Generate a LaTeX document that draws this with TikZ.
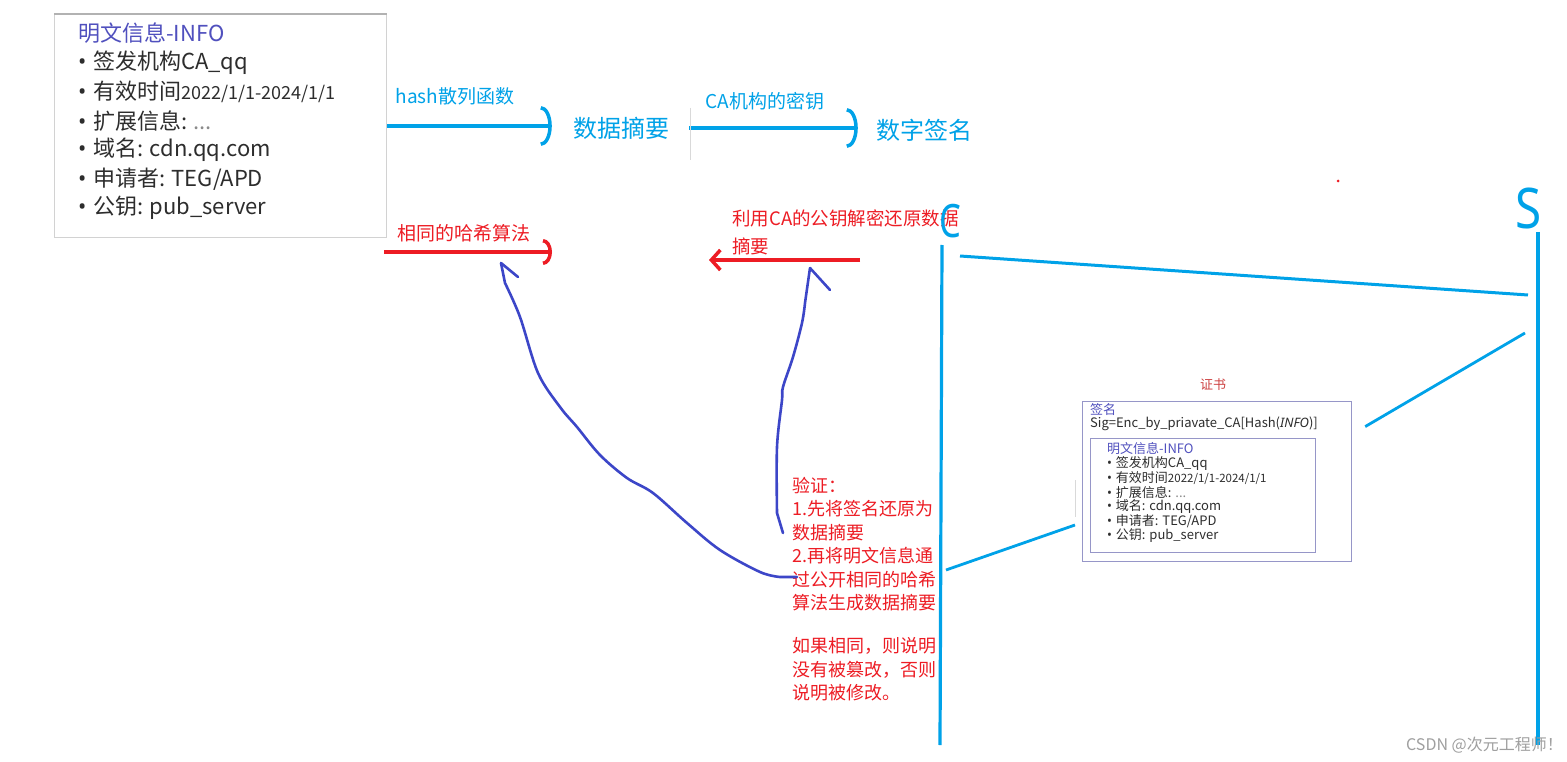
\documentclass[tikz,border=0pt]{standalone}
\usepackage{fontspec}
\usepackage{graphicx}
\setmainfont{Noto Sans CJK SC}
\newfontfamily\latinsans{Noto Sans}
\usetikzlibrary{arrows.meta}
\definecolor{sky}{RGB}{0,162,232}
\definecolor{pen}{RGB}{237,28,36}
\definecolor{ink}{RGB}{60,70,200}
\definecolor{slate}{RGB}{45,45,45}
\definecolor{iris}{RGB}{80,80,190}
\definecolor{frame}{RGB}{150,150,200}
\definecolor{rose}{RGB}{205,65,65}
\newcommand{\dotmark}{{\latinsans\char"2022}\hspace{0.3em}}
\tikzset{
  flow/.style={draw=#1,line width=3.5pt,-{Arc Barb[length=11pt,width=40pt]}},
  flow/.default=sky,
  rflow/.style={draw=pen,line width=3.5pt,-{Arc Barb[length=9pt,width=26pt]}},
  lflow/.style={draw=pen,line width=3.5pt,-{Straight Barb[length=9pt,width=20pt]}},
  hand/.style={draw=ink,line width=2.6pt,line cap=round,line join=round},
  wire/.style={draw=sky,line width=3.2pt},
  bluetxt/.style={text=sky,inner sep=0pt,font=\fontsize{24}{26}\selectfont},
  redtxt/.style={text=pen,inner sep=0pt,font=\fontsize{19}{22}\selectfont},
  infobox/.style={draw=gray!35,line width=1pt},
  head/.style={text=iris,inner sep=0pt,font=\fontsize{22}{24}\selectfont},
  item/.style={text=slate,inner sep=0pt,font=\fontsize{22}{24}\selectfont},
  certbox/.style={draw=frame,line width=1.2pt},
  chead/.style={text=iris,inner sep=0pt,font=\fontsize{13}{14}\selectfont},
  citem/.style={text=slate,inner sep=0pt,font=\fontsize{13}{14}\selectfont},
  faint/.style={draw=gray!30,line width=0.8pt},
}
\begin{document}
\begin{tikzpicture}[x=1pt,y=-1pt]
  \fill[white] (0,0) rectangle (1567,762);
  \useasboundingbox (0,0) rectangle (1567,762);

  % plain text block
  \node[infobox,minimum width=332,minimum height=223,anchor=north west] (info) at (54,14) {};
  \draw[gray!60,line width=2.5pt] (info.north west) -- (info.north east);
  \node[head,anchor=west] at ([shift={(24,19)}]info.north west) {明文信息-INFO};
  \foreach \t [count=\i] in {签发机构CA\_qq,有效时间{\fontsize{18}{20}\selectfont 2022/1/1-2024/1/1},扩展信息: \textcolor{slate!55}{...},域名: cdn.qq.com,申请者: TEG/APD,公钥: pub\_server}
    \node[item,anchor=west] at ([shift={(24,20+29*\i)}]info.north west) {\dotmark\t};

  % signing chain
  \node[bluetxt] (digest) at (621,128) {数据摘要};
  \node[bluetxt] (sign) at (924,130) {数字签名};
  \node[bluetxt,font=\fontsize{19}{21}\selectfont] (hash) at (455,96) {hash散列函数};
  \node[bluetxt,font=\fontsize{19}{21}\selectfont] (cakey) at (765,101) {CA机构的密钥};
  \draw[flow] (info.east) -- ([xshift=-21pt]info.east -| digest.west);
  \draw[flow,shorten <=20pt] (digest.east) -- ([xshift=-18pt]digest.east -| sign.west);
  \draw[faint] (690,108) -- (690,160);

  % checking chain
  \node[redtxt] (same) at (464,233) {相同的哈希算法};
  \node[redtxt,font=\fontsize{18.5}{28}\selectfont,align=left,anchor=north west] (decrypt) at (732,210) {利用CA的公钥解密还原数据\\摘要};
  \coordinate (s1) at (384,252);
  \coordinate (s2) at (552,252);
  \coordinate (d1) at (860,260);
  \coordinate (d2) at (709,260);
  \draw[rflow] (s1) -- (s2);
  \draw[lflow] (d1) -- (d2);

  \node[redtxt,font=\fontsize{18}{23.5}\selectfont,align=left,anchor=north west] (verify) at (792,477)
    {验证：\\1.先将签名还原为\\数据摘要\\2.再将明文信息通\\过公开相同的哈希\\算法生成数据摘要\\[19.5pt]如果相同，则说明\\没有被篡改，否则\\说明被修改。};

  % pen strokes
  \coordinate (v1) at (797,577);
  \coordinate (v2) at (783,533);
  \coordinate (t1) at (501,263);
  \coordinate (t2) at (810,268);
  \draw[hand] (v1) -- plot[smooth,tension=0.55] coordinates {(780,577) (760,572) (720,550) (687,523) (653,493) (627,478) (600,455) (577,427) (560,407) (538,373) (520,317) (505,283)} -- (t1);
  \draw[hand] (t1) -- ++(17,14);
  \draw[hand] (v2) -- plot[smooth,tension=0.55] coordinates {(777,513) (777,447) (782,400) (783,387) (793,357) (802,323) (805,303)} -- (t2);
  \draw[hand] (t2) -- ++(20,22);

  % client and server
  \node[text=sky,inner sep=0pt,font=\latinsans\fontsize{46}{46}\selectfont] (client) at (950,221) {\scalebox{0.75}[1]{C}};
  \node[text=sky,inner sep=0pt,font=\latinsans\fontsize{56}{56}\selectfont] (server) at (1529,209) {\scalebox{0.85}[1]{S}};
  \coordinate (cTop) at (942,245);
  \coordinate (cBot) at (940,745);
  \coordinate (sTop) at (1538,232);
  \coordinate (sBot) at (1538,745);
  \draw[wire] (cTop) -- (cBot);
  \draw[wire] (sTop) -- (sBot);

  % certificate
  \node[text=rose,inner sep=0pt,font=\fontsize{13}{14}\selectfont] (certname) at (1213,385) {证书};
  \node[certbox,minimum width=269,minimum height=160,anchor=north west] (cert) at (1082,401) {};
  \node[chead,anchor=west] at (1090,410) {签名};
  \node[citem,anchor=west] at (1090,424) {Sig=Enc\_by\_priavate\_CA[Hash({\latinsans\itshape INFO})]};
  \node[certbox,minimum width=225,minimum height=114,anchor=north west] (inner) at (1090,438) {};
  \node[chead,anchor=west] at (1107,449) {明文信息-INFO};
  \foreach \t [count=\i] in {签发机构CA\_qq,有效时间{\fontsize{11.5}{12}\selectfont 2022/1/1-2024/1/1},扩展信息: \textcolor{slate!55}{...},域名: cdn.qq.com,申请者: TEG/APD,公钥: pub\_server}
    \node[citem,anchor=west] at ([shift={(17,11+14.5*\i)}]inner.north west) {\dotmark\t};
  \draw[faint] (1075,480) -- (1075,517);

  % message lines
  \draw[wire,line width=3pt] (960,256) -- (1528,295);
  \draw[wire,line width=2.8pt] ([shift={(13,-55)}]cert.east) coordinate (m1) -- (1525,333);
  \draw[wire,line width=2.8pt] (946,570) -- (1075,525);
  \fill[pen] (1338,181) circle (1.5);

  \node[text=gray!75,inner sep=0pt,anchor=east,font=\fontsize{16}{18}\selectfont] (mark) at (1563,745) {CSDN @次元工程师！};
\end{tikzpicture}
\end{document}
